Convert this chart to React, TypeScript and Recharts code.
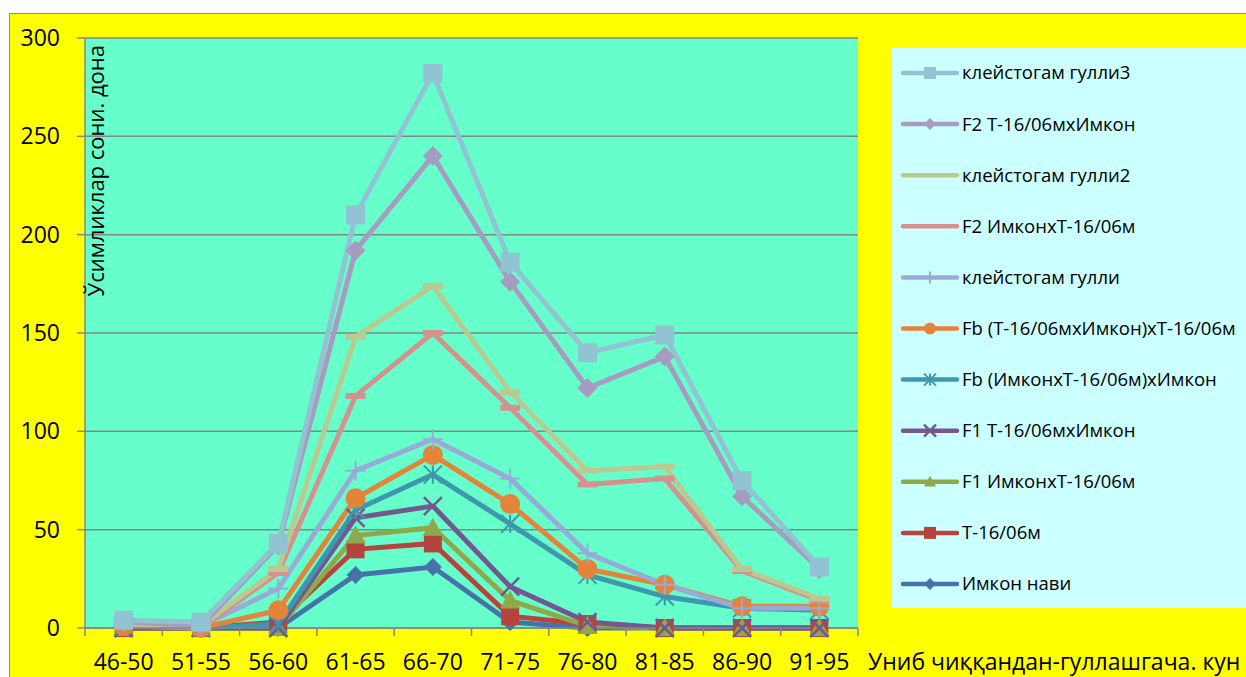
import React from 'react';
import { LineChart, Line, XAxis, YAxis, CartesianGrid } from 'recharts';

// Flowering-period groups (days from emergence to flowering)
const categories = ['46-50', '51-55', '56-60', '61-65', '66-70', '71-75', '76-80', '81-85', '86-90', '91-95'];
const yTicks = [0, 50, 100, 150, 200, 250, 300];

// Plant counts per group for every line / population
const kleistogam3 = [4, 3, 43, 210, 282, 186, 140, 149, 75, 31];
const f2TxI = [3, 1, 42, 192, 240, 176, 122, 138, 67, 30];
const kleistogam2 = [2, 1, 30, 148, 174, 120, 80, 82, 30, 15];
const f2IxT = [2, 0, 28, 118, 150, 112, 73, 76, 29, 14];
const kleistogam1 = [3, 1, 20, 80, 96, 76, 38, 22, 10, 10];
const fbTIxT = [1, 0, 9, 66, 88, 63, 30, 22, 11, 11];
const fbITxI = [1, 0, 2, 60, 78, 53, 27, 16, 10, 9];
const f1TxI = [0, 0, 0, 56, 62, 21, 3, 0, 0, 0];
const f1IxT = [0, 0, 0, 47, 51, 14, 1, 0, 0, 0];
const t1606 = [0, 0, 3, 40, 43, 6, 2, 0, 0, 0];
const imkon = [0, 0, 0, 27, 31, 3, 0, 0, 0, 0];

const yTitle = 'Ўсимликлар сони. дона';
const xTitle = 'Униб чиққандан-гуллашгача. кун';

type Shape = 'square' | 'diamond' | 'dash' | 'plus' | 'circle' | 'asterisk' | 'cross' | 'triangle';

interface Series {
  key: string;
  name: string;
  values: number[];
  color: string;
  shape: Shape;
  size: number;
}

// Legend order (top to bottom)
const seriesList: Series[] = [
  { key: 's1', name: 'клейстогам гулли3', values: kleistogam3, color: '#91C3D2', shape: 'square', size: 19 },
  { key: 's2', name: 'F2 Т-16/06мхИмкон', values: f2TxI, color: '#A89BC0', shape: 'diamond', size: 20 },
  { key: 's3', name: 'клейстогам гулли2', values: kleistogam2, color: '#BAC98F', shape: 'dash', size: 20 },
  { key: 's4', name: 'F2 ИмконхТ-16/06м', values: f2IxT, color: '#D6918F', shape: 'dash', size: 20 },
  { key: 's5', name: 'клейстогам гулли', values: kleistogam1, color: '#9AAAD7', shape: 'plus', size: 20 },
  { key: 's6', name: 'Fb (Т-16/06мхИмкон)хТ-16/06м', values: fbTIxT, color: '#E3843A', shape: 'circle', size: 20 },
  { key: 's7', name: 'Fb (ИмконхТ-16/06м)хИмкон', values: fbITxI, color: '#3F97AE', shape: 'asterisk', size: 18 },
  { key: 's8', name: 'F1 Т-16/06мхИмкон', values: f1TxI, color: '#73578F', shape: 'cross', size: 18 },
  { key: 's9', name: 'F1 ИмконхТ-16/06м', values: f1IxT, color: '#8FA84A', shape: 'triangle', size: 20 },
  { key: 's10', name: 'Т-16/06м', values: t1606, color: '#B5443F', shape: 'square', size: 18 },
  { key: 's11', name: 'Имкон нави', values: imkon, color: '#4672A8', shape: 'diamond', size: 18 },
];

const rows = categories.map((cat, i) => {
  const row: Record<string, string | number> = { cat };
  seriesList.forEach((s) => {
    row[s.key] = s.values[i];
  });
  return row;
});

const FONT = "'Open Sans', 'DejaVu Sans', sans-serif";
const CHART_W = 1246;
const CHART_H = 677;
const MARGIN = { top: 38, right: 388, bottom: 0, left: 25 };
const Y_AXIS_W = 60;
const X_AXIS_H = 49;
const TICK = 8;
const PLOT_W = CHART_W - MARGIN.left - Y_AXIS_W - MARGIN.right;
const HALF_BAND = PLOT_W / categories.length / 2;
const GRID = '#868686';

function Marker({ shape, cx, cy, size, color }: { shape: Shape; cx: number; cy: number; size: number; color: string }) {
  const h = size / 2;
  switch (shape) {
    case 'square':
      return <rect x={cx - h} y={cy - h} width={size} height={size} fill={color} />;
    case 'diamond':
      return <polygon points={`${cx},${cy - h} ${cx + h},${cy} ${cx},${cy + h} ${cx - h},${cy}`} fill={color} />;
    case 'dash':
      return <rect x={cx - h} y={cy - 3} width={size} height={6} fill={color} />;
    case 'plus':
      return (
        <g stroke={color} strokeWidth={2}>
          <line x1={cx - h} y1={cy} x2={cx + h} y2={cy} />
          <line x1={cx} y1={cy - h} x2={cx} y2={cy + h} />
        </g>
      );
    case 'circle':
      return <circle cx={cx} cy={cy} r={h} fill={color} />;
    case 'asterisk':
      return (
        <g stroke={color} strokeWidth={2}>
          <line x1={cx - h} y1={cy - h} x2={cx + h} y2={cy + h} />
          <line x1={cx - h} y1={cy + h} x2={cx + h} y2={cy - h} />
          <line x1={cx} y1={cy - h} x2={cx} y2={cy + h} />
        </g>
      );
    case 'cross':
      return (
        <g stroke={color} strokeWidth={2.5}>
          <line x1={cx - h} y1={cy - h} x2={cx + h} y2={cy + h} />
          <line x1={cx - h} y1={cy + h} x2={cx + h} y2={cy - h} />
        </g>
      );
    case 'triangle':
    default:
      return <polygon points={`${cx},${cy - h} ${cx + h},${cy + h * 0.8} ${cx - h},${cy + h * 0.8}`} fill={color} />;
  }
}

function CategoryTick(props: any) {
  const { x, y, payload, index } = props;
  const axisY = y - TICK;
  const last = index === categories.length - 1;
  return (
    <g>
      <line x1={x - HALF_BAND} y1={axisY} x2={x - HALF_BAND} y2={axisY + TICK} stroke={GRID} strokeWidth={1.5} />
      {last && <line x1={x + HALF_BAND} y1={axisY} x2={x + HALF_BAND} y2={axisY + TICK} stroke={GRID} strokeWidth={1.5} />}
      <text x={x} y={y + 34} textAnchor="middle" fontSize={23} fill="#000" fontFamily={FONT}>
        {payload.value}
      </text>
    </g>
  );
}

function LegendBox() {
  const step = 51.1;
  return (
    <div style={{ position: 'absolute', left: 892, top: 48, width: 354, height: 560, background: '#CCFFFF', overflow: 'hidden' }}>
      <svg width={354} height={560}>
        {seriesList.map((s, i) => {
          const cy = 25 + i * step;
          return (
            <g key={s.key}>
              <line x1={11} y1={cy} x2={65} y2={cy} stroke={s.color} strokeWidth={4.5} strokeLinecap="round" />
              <Marker shape={s.shape} cx={38} cy={cy} size={s.shape === 'dash' ? 0 : 12} color={s.color} />
              <text x={70} y={cy} dy="0.35em" fontSize={18.5} fill="#000" fontFamily={FONT}>
                {s.name}
              </text>
            </g>
          );
        })}
      </svg>
    </div>
  );
}

export default function App() {
  const ordered = [...seriesList].reverse();
  return (
    <div style={{ position: 'absolute', left: 0, top: 0, width: CHART_W, height: CHART_H, overflow: 'hidden', background: '#fff', fontFamily: FONT }}>
      <div style={{ position: 'absolute', left: 9, top: 13, right: 0, bottom: 0, background: '#FFFF00', borderLeft: '1px solid #8c8c8c', borderTop: '1px solid #8c8c8c' }} />
      <div style={{ position: 'absolute', left: 0, top: 0 }}>
        <LineChart width={CHART_W} height={CHART_H} data={rows} margin={MARGIN}>
          <CartesianGrid vertical={false} stroke={GRID} strokeWidth={1.5} fill="#66FFCC" fillOpacity={1} />
          <XAxis
            dataKey="cat"
            scale="band"
            height={X_AXIS_H}
            interval={0}
            tickSize={TICK}
            tickMargin={0}
            tickLine={false}
            axisLine={{ stroke: GRID, strokeWidth: 1.5 }}
            tick={<CategoryTick />}
          />
          <YAxis
            width={Y_AXIS_W}
            domain={[0, 300]}
            ticks={yTicks}
            interval={0}
            tickSize={TICK}
            tickMargin={17}
            axisLine={{ stroke: GRID, strokeWidth: 1.5 }}
            tickLine={{ stroke: GRID, strokeWidth: 1.5 }}
            tick={{ fontSize: 23, fill: '#000', fontFamily: FONT }}
          />
          {ordered.map((s) => (
            <Line
              key={s.key}
              dataKey={s.key}
              name={s.name}
              type="linear"
              stroke={s.color}
              strokeWidth={5}
              isAnimationActive={false}
              dot={(p: any) => <Marker key={`${s.key}-${p.index}`} shape={s.shape} cx={p.cx} cy={p.cy} size={s.size} color={s.color} />}
              activeDot={false}
            />
          ))}
        </LineChart>
      </div>
      <svg width={CHART_W} height={CHART_H} style={{ position: 'absolute', left: 0, top: 0, pointerEvents: 'none' }}>
        <text x={104} y={45} transform="rotate(-90 104 45)" textAnchor="end" fontSize={22} fill="#000" fontFamily={FONT}>
          {yTitle}
        </text>
        <text x={868} y={670} fontSize={23} fill="#000" fontFamily={FONT}>
          {xTitle}
        </text>
      </svg>
      <LegendBox />
    </div>
  );
}
